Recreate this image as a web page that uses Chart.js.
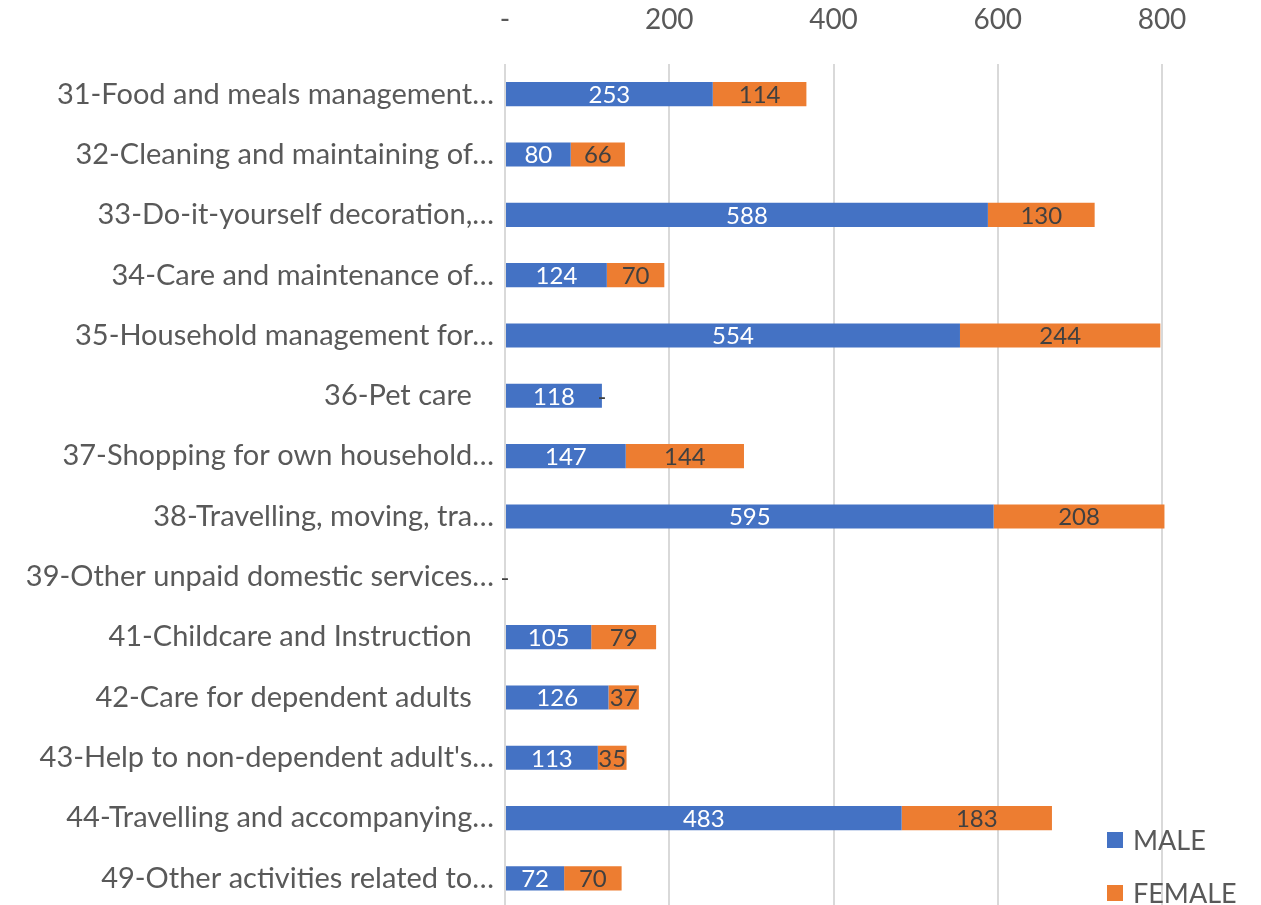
<!DOCTYPE html>
<html>
<head>
<meta charset="utf-8">
<script src="https://cdn.jsdelivr.net/npm/chart.js@4/dist/chart.umd.min.js"></script>
<style>
  html, body { margin: 0; padding: 0; background: #fff; overflow: hidden; }
  #wrap { width: 1261px; height: 929px; position: relative; }
</style>
</head>
<body>
<div id="wrap"><canvas id="canvas"></canvas></div>
<script>
const categories = [
  '31-Food and meals management…',
  '32-Cleaning and maintaining of…',
  '33-Do-it-yourself decoration,…',
  '34-Care and maintenance of…',
  '35-Household management for…',
  '36-Pet care   ',
  '37-Shopping for own household…',
  '38-Travelling, moving, tra…',
  '39-Other unpaid domestic services…',
  '41-Childcare and Instruction   ',
  '42-Care for dependent adults   ',
  "43-Help to non-dependent adult's…",
  '44-Travelling and accompanying…',
  '49-Other activities related to…'
];
const male = [253, 80, 588, 124, 554, 118, 147, 595, 0, 105, 126, 113, 483, 72];
const female = [114, 66, 130, 70, 244, 0, 144, 208, 0, 79, 37, 35, 183, 70];
const xTicks = [0, 200, 400, 600, 800];

const FONT = 'Lato, "Noto Sans", sans-serif';
const ctx = document.getElementById('canvas');

// labels in the middle of each bar segment, "-" for zeros
const barLabels = {
  id: 'barLabels',
  afterDatasetsDraw(chart) {
    const c = chart.ctx;
    c.save();
    c.font = '24px ' + FONT;
    c.textAlign = 'center';
    c.textBaseline = 'middle';
    chart.data.datasets.forEach((ds, i) => {
      chart.getDatasetMeta(i).data.forEach((bar, j) => {
        const v = ds.data[j];
        const p = bar.getProps(['x', 'y', 'base'], true);
        c.fillStyle = ds.labelColor;
        c.fillText(v === 0 ? '-' : String(v), (p.x + p.base) / 2, p.y + 1);
      });
    });
    c.restore();
  }
};

// legend sitting inside the plot, bottom right
const cornerLegend = {
  id: 'cornerLegend',
  afterDraw(chart) {
    const c = chart.ctx;
    c.save();
    c.font = '27px ' + FONT;
    c.textBaseline = 'middle';
    chart.data.datasets.forEach((ds, i) => {
      const y = 840 + i * 53;
      c.fillStyle = ds.backgroundColor;
      c.fillRect(1107, y - 8, 16, 16);
      c.fillStyle = '#595959';
      c.fillText(ds.label, 1133, y + 1);
    });
    c.restore();
  }
};

new Chart(ctx, {
  type: 'bar',
  data: {
    labels: categories,
    datasets: [{
      label: 'MALE',
      data: male,
      backgroundColor: '#4472C4',
      labelColor: '#ffffff',
      categoryPercentage: 1,
      barPercentage: 0.4,
      clip: false
    }, {
      label: 'FEMALE',
      data: female,
      backgroundColor: '#ED7D31',
      labelColor: '#404040',
      categoryPercentage: 1,
      barPercentage: 0.4,
      clip: false
    }]
  },
  options: {
    indexAxis: 'y',
    responsive: true,
    maintainAspectRatio: false,
    animation: false,
    layout: { padding: { left: 0, right: 99, top: 0, bottom: 4 } },
    plugins: {
      legend: { display: false },
      tooltip: { enabled: false }
    },
    scales: {
      x: {
        position: 'top',
        stacked: true,
        min: 0,
        max: 800,
        afterBuildTicks: (s) => { s.ticks = xTicks.map(v => ({ value: v })); },
        afterFit: (s) => { s.height = 64; },
        grid: { color: '#d9d9d9', lineWidth: 2, drawTicks: false },
        border: { display: false },
        ticks: {
          padding: 27,
          color: '#595959',
          font: { family: FONT, size: 28 },
          callback: (v) => v === 0 ? '-' : v
        }
      },
      y: {
        stacked: true,
        afterFit: (s) => { s.width = 505; },
        grid: { display: false },
        border: { display: false },
        ticks: {
          padding: 3,
          color: '#595959',
          font: { family: FONT, size: 29 }
        }
      }
    }
  },
  plugins: [barLabels, cornerLegend]
});
</script>
</body>
</html>
